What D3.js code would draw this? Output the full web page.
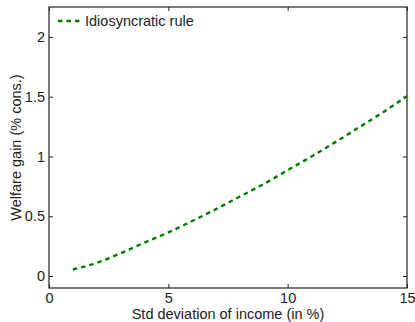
<!DOCTYPE html>
<html>
<head>
<meta charset="utf-8">
<script src="https://cdn.jsdelivr.net/npm/d3@7"></script>
<style>
  html, body { margin: 0; padding: 0; background: #fff; }
  svg { display: block; font-family: "Liberation Sans", Arial, sans-serif; }
</style>
</head>
<body>
<svg id="chart" width="415" height="322"></svg>
<script>
// Income volatility (std dev, %) and the welfare gain of the idiosyncratic rule
const stdDev = [1, 2, 3, 4, 5, 6, 7, 8, 9, 10, 11, 12, 13, 14, 15];
const welfareGain = [0.055, 0.11, 0.19, 0.28, 0.365, 0.46, 0.56, 0.665, 0.77, 0.885, 1.0, 1.12, 1.245, 1.37, 1.505];
const xTicks = [0, 5, 10, 15];
const yTicks = [0, 0.5, 1, 1.5, 2];
const seriesName = "Idiosyncratic rule";

const svg = d3.select("#chart");
const m = { left: 49, right: 8, top: 7, bottom: 34 };
const W = 415, H = 322;
const x = d3.scaleLinear().domain([0, 15]).range([m.left, W - m.right]);
const y = d3.scaleLinear().domain([-0.1, 2.25]).range([H - m.bottom, m.top]);

const tickLen = 4;
const fmt = d => String(d);
const ink = "#222";
const green = "#007a00";

// axes with inward ticks, boxed on all four sides
const gx = svg.append("g").attr("transform", `translate(0,${y.range()[0]})`)
  .call(d3.axisBottom(x).tickValues(xTicks).tickFormat(fmt).tickSizeInner(-tickLen).tickSizeOuter(0).tickPadding(5));
const gxTop = svg.append("g").attr("transform", `translate(0,${y.range()[1]})`)
  .call(d3.axisTop(x).tickValues(xTicks).tickFormat("").tickSizeInner(-tickLen).tickSizeOuter(0));
const gy = svg.append("g").attr("transform", `translate(${x.range()[0]},0)`)
  .call(d3.axisLeft(y).tickValues(yTicks).tickFormat(fmt).tickSizeInner(-tickLen).tickSizeOuter(0).tickPadding(4));
const gyRight = svg.append("g").attr("transform", `translate(${x.range()[1]},0)`)
  .call(d3.axisRight(y).tickValues(yTicks).tickFormat("").tickSizeInner(-tickLen).tickSizeOuter(0));

[gx, gxTop, gy, gyRight].forEach(g => {
  g.select(".domain").remove();
  g.selectAll("line").attr("stroke", ink).attr("stroke-width", 1);
  g.selectAll("text").attr("fill", ink).attr("font-size", 14.5).attr("font-family", "Liberation Sans, Arial, sans-serif");
});

// frame
svg.append("rect")
  .attr("x", x.range()[0]).attr("y", y.range()[1])
  .attr("width", x.range()[1] - x.range()[0])
  .attr("height", y.range()[0] - y.range()[1])
  .attr("fill", "none").attr("stroke", ink).attr("stroke-width", 1.2);

// series
const line = d3.line()
  .x((d, i) => x(stdDev[i]))
  .y(d => y(d))
  .curve(d3.curveMonotoneX);

svg.append("path")
  .datum(welfareGain)
  .attr("d", line)
  .attr("fill", "none")
  .attr("stroke", green)
  .attr("stroke-width", 2.4)
  .attr("stroke-dasharray", "4.5,4");

// legend
const legY = 21;
svg.append("line")
  .attr("x1", 58).attr("x2", 82).attr("y1", legY).attr("y2", legY)
  .attr("stroke", green).attr("stroke-width", 2.4).attr("stroke-dasharray", "4.5,4");
svg.append("text")
  .attr("x", 85).attr("y", legY + 5)
  .attr("font-size", 14.5).attr("fill", ink)
  .text(seriesName);

// axis titles
svg.append("text")
  .attr("x", (x.range()[0] + x.range()[1]) / 2)
  .attr("y", 319)
  .attr("text-anchor", "middle")
  .attr("font-size", 14.5).attr("fill", ink)
  .text("Std deviation of income (in %)");

svg.append("text")
  .attr("transform", `translate(21,${(y.range()[0] + y.range()[1]) / 2}) rotate(-90)`)
  .attr("text-anchor", "middle")
  .attr("font-size", 14.5).attr("fill", ink)
  .text("Welfare gain (% cons.)");
</script>
</body>
</html>
